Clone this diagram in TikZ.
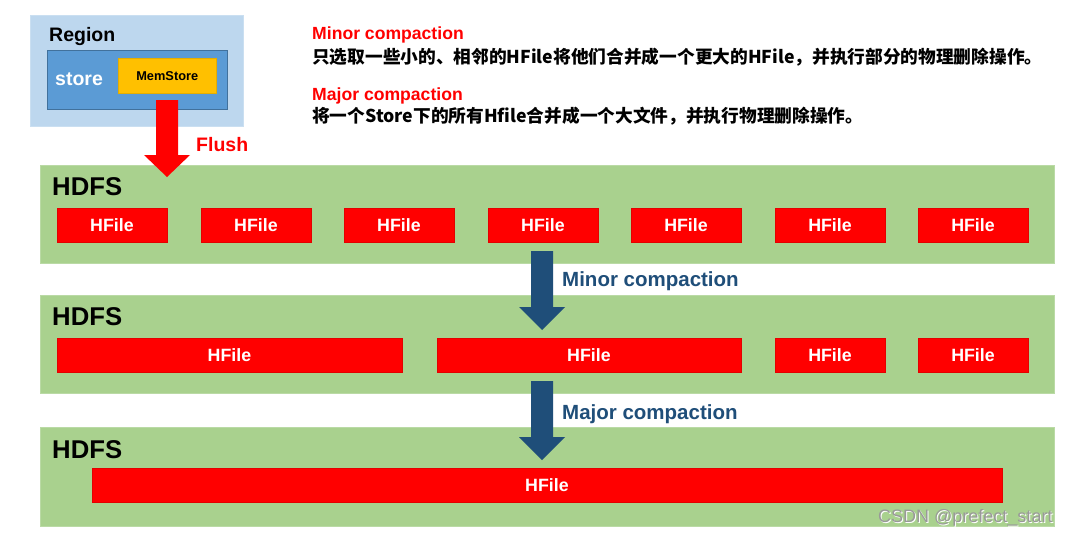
\documentclass[tikz,border=0pt]{standalone}
\usepackage{fontspec}
\setmainfont{Liberation Sans}
\newfontfamily\cjk{Noto Sans CJK SC}
\definecolor{bandgreen}{HTML}{A9D18E}
\definecolor{regionblue}{HTML}{BDD7EE}
\definecolor{storeblue}{HTML}{5B9BD5}
\definecolor{storeedge}{HTML}{41719C}
\definecolor{memyellow}{HTML}{FFC000}
\definecolor{darkblue}{HTML}{1F4E79}
\definecolor{hred}{HTML}{FF0000}
\begin{document}
\begin{tikzpicture}[x=1pt,y=-1pt,
  band/.style={fill=bandgreen,draw=bandgreen!80!white,line width=0.8pt,anchor=north west,inner sep=0pt},
  hfile/.style={fill=hred,draw=hred!90!black,line width=0.5pt,minimum height=34pt,inner sep=0pt,text=white,font=\bfseries\fontsize{17.8}{17.8}\selectfont},
  hdfs/.style={anchor=base west,font=\bfseries\fontsize{25.7}{25.7}\selectfont,inner sep=0pt},
  caplabel/.style={anchor=base west,text=darkblue,font=\bfseries\fontsize{20.5}{20.5}\selectfont,inner sep=0pt},
  redtitle/.style={anchor=base west,text=hred,font=\bfseries\fontsize{17.6}{17.6}\selectfont,inner sep=0pt},
  cjkline/.style={anchor=base west,font=\cjk\bfseries\fontsize{17.7}{17.7}\selectfont,inner sep=0pt}
]
\useasboundingbox (0,0) rectangle (1070,536);
\fill[white] (0,0) rectangle (1070,536);
% Region
\node[fill=regionblue,draw=regionblue!80!white,minimum width=213pt,minimum height=111pt,anchor=north west,inner sep=0pt] (region) at (30,15) {};
\node[anchor=base west,inner sep=0pt,font=\bfseries\fontsize{19.5}{19.5}\selectfont] (regiont) at (49,41) {Region};
\node[fill=storeblue,draw=storeedge,line width=1pt,minimum width=180pt,minimum height=59pt,anchor=north west,inner sep=0pt] (store) at (47,50) {};
\node[anchor=base west,inner sep=0pt,text=white,font=\bfseries\fontsize{19.5}{19.5}\selectfont] (storet) at (55,85) {store};
\node[fill=memyellow,draw=memyellow!90!black,line width=0.5pt,minimum width=98pt,minimum height=35pt,anchor=north west,inner sep=0pt,font=\bfseries\fontsize{12.8}{12.8}\selectfont] (mem) at (118,58) {MemStore};
% top texts
\node[redtitle] (t1) at (312,39) {Minor compaction};
\node[cjkline] (l1) at (312,63) {只选取一些小的、相邻的HFile将他们合并成一个更大的HFile，并执行部分的物理删除操作。};
\node[redtitle] (t2) at (312,100) {Major compaction};
\node[cjkline] (l2) at (312,122) {将一个Store下的所有Hfile合并成一个大文件，并执行物理删除操作。};
% bands
\node[band,minimum width=1014pt,minimum height=98pt] (b1) at (40,165) {};
\node[band,minimum width=1014pt,minimum height=98pt] (b2) at (40,295) {};
\node[band,minimum width=1014pt,minimum height=99pt] (b3) at (40,427) {};
\node[hdfs] (hd1) at (52,195) {HDFS};
\node[hdfs] (hd2) at (52,325) {HDFS};
\node[hdfs] (hd3) at (52,458) {HDFS};
% row 1
\foreach \i/\x in {1/112,2/256,3/399,4/543,5/686,6/830,7/973}
  \node[hfile,minimum width=110pt] (r1\i) at (\x,225) {HFile};
% row 2
\node[hfile,minimum width=345pt] (r21) at (229.5,355) {HFile};
\node[hfile,minimum width=304pt] (r22) at (589,355) {HFile};
\node[hfile,minimum width=110pt] (r23) at (830,355) {HFile};
\node[hfile,minimum width=110pt] (r24) at (973,355) {HFile};
% row 3
\node[hfile,minimum width=910pt] (r31) at (547,485) {HFile};
% Flush arrow
\fill[hred] (156,100) -- (178,100) -- (178,155) -- (190,155) -- (167,177) -- (144,155) -- (156,155) -- cycle;
\node[anchor=base west,inner sep=0pt,text=hred,font=\bfseries\fontsize{19.5}{19.5}\selectfont] (flush) at (196,151) {Flush};
% Minor arrow
\fill[darkblue] (531,251) -- (553,251) -- (553,307) -- (565,307) -- (542,330) -- (519,307) -- (531,307) -- cycle;
\node[caplabel] (minor) at (562,286) {Minor compaction};
% Major arrow
\fill[darkblue] (531,381) -- (553,381) -- (553,437) -- (565,437) -- (542,460) -- (519,437) -- (531,437) -- cycle;
\node[caplabel] (major) at (562,419) {Major compaction};
% watermark
\node[anchor=base west,inner sep=0pt,text=white,font=\fontsize{18}{18}\selectfont] (wmshadow) at (879,523) {CSDN @prefect\_start};
\node[anchor=base west,inner sep=0pt,text=gray!80,font=\fontsize{18}{18}\selectfont] (wm) at (878,522) {CSDN @prefect\_start};
\end{tikzpicture}
\end{document}
